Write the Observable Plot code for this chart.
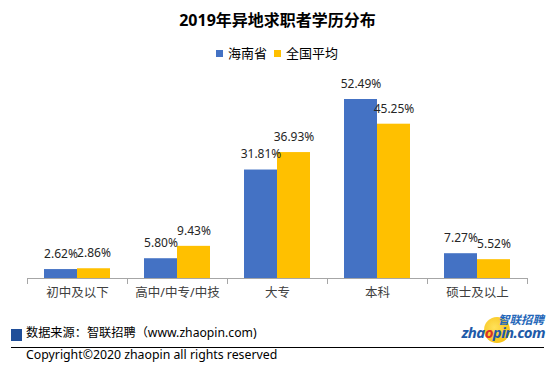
<!DOCTYPE html>
<html><head><meta charset="utf-8">
<script src="https://cdn.jsdelivr.net/npm/d3@7"></script>
<script src="https://cdn.jsdelivr.net/npm/@observablehq/plot@0.6"></script>
<style>
body{margin:0;background:#fff;font-family:"Noto Sans","Noto Sans CJK SC",sans-serif;}
#wrap{position:relative;width:554px;height:374px;overflow:hidden;background:#fff;}
.abs{position:absolute;white-space:nowrap;}
#title{left:0;width:555px;top:10px;text-align:center;font-size:16px;font-weight:bold;color:#000;line-height:20px;}
.sw{display:inline-block;width:7px;height:7px;vertical-align:1px;}
#chart{position:absolute;left:0;top:70px;}
</style></head>
<body><div id="wrap">
<div id="title" class="abs">2019年异地求职者学历分布</div>
<div id="legend"></div>
<div id="chart"></div>
<div class="abs" style="left:11px;top:329px;width:11px;height:12px;background:#1F4E99"></div>
<div class="abs" style="left:26px;top:324px;font-size:12.2px;line-height:18px;color:#000">数据来源：智联招聘（www.zhaopin.com)</div>
<div class="abs" style="left:11px;top:347px;width:533px;height:1px;background:#000"></div>
<div class="abs" style="left:26px;top:346px;font-size:12.3px;line-height:18px;color:#000">Copyright©2020 zhaopin all rights reserved</div>
<div class="abs" style="left:484px;top:317px;width:26px;height:26px;border-radius:50%;background:radial-gradient(circle at 40% 40%,#FFE15A,#F5B800);"></div>
<div class="abs" style="left:459px;top:312px;width:86px;text-align:right;font-style:italic;font-weight:bold;color:#1E5AA8;line-height:12px;"><span style="font-size:11.5px;color:#2366B8;margin-right:1px">智联招聘</span><br><span style="font-size:15px;letter-spacing:-0.6px">zha<span style="color:#D8352A">o</span>pin.com</span></div>
</div>
<script>
const categories = ["初中及以下","高中/中专/中技","大专","本科","硕士及以上"];
const series = ["海南省","全国平均"];
const hainan = [2.62,5.80,31.81,52.49,7.27];
const national = [2.86,9.43,36.93,45.25,5.52];
const colors = ["#4472C4","#FFC000"];

const data = categories.flatMap((c,i)=>[
  {cat:c, s:series[0], v:hainan[i]},
  {cat:c, s:series[1], v:national[i]}
]);

// legend
const legend = document.getElementById("legend");
legend.className = "abs";
legend.style.cssText = "position:absolute;left:0;width:554px;top:44px;text-align:center;font-size:13px;line-height:18px;color:#000;";
legend.innerHTML = series.map((s,i)=>`<span class="sw" style="background:${colors[i]};margin-right:5px"></span>${s}`).join('<span style="display:inline-block;width:7px"></span>');

const H = 240, mt = 3.4, mb = 32;
const plot = Plot.plot({
  width: 554, height: H,
  marginTop: mt, marginBottom: mb, marginLeft: 25, marginRight: 26,
  style: {fontFamily: '"Noto Sans","Noto Sans CJK SC",sans-serif', background: "transparent"},
  fx: {domain: categories, padding: 0, label: null},
  x: {domain: series, paddingInner: 0, paddingOuter: 0.5, axis: null},
  y: {domain: [0, 60], axis: null},
  color: {domain: series, range: colors},
  marks: [
    Plot.barY(data, {fx: "cat", x: "s", y: "v", fill: "s"}),
    Plot.ruleY([0], {stroke: "#a6a6a6"}),
    Plot.frame({anchor: "left", stroke: "#a6a6a6", insetTop: H - mt - mb, insetBottom: -5}),
    Plot.frame({anchor: "right", stroke: "#a6a6a6", insetTop: H - mt - mb, insetBottom: -5}),
    Plot.text(data, {fx: "cat", x: "s", y: "v", text: d => d.v.toFixed(2) + "%", dy: -15.5, fontSize: 12, fill: "#262626", lineAnchor: "middle"}),
    Plot.axisFx({anchor: "bottom", tickSize: 0, tickPadding: 10, fontSize: 12.5, label: null, fill: "#404040"})
  ]
});
document.getElementById("chart").appendChild(plot);
</script>
</body></html>
